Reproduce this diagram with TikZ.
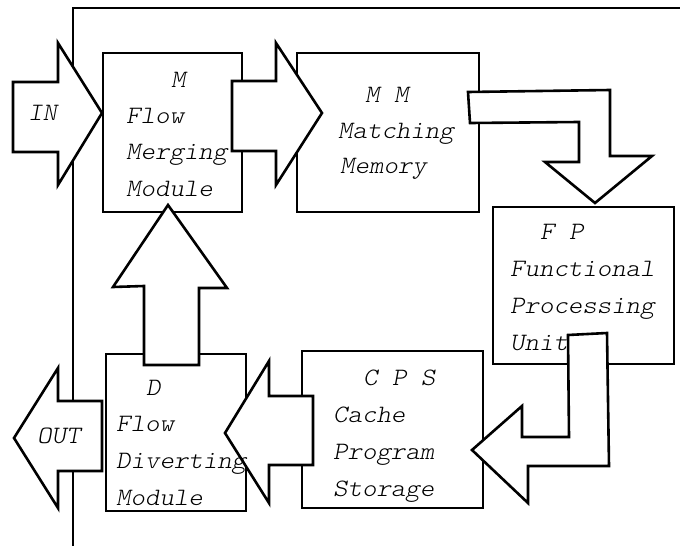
\documentclass[tikz,border=0pt]{standalone}
\usepackage{fontspec}
\newfontfamily\lbfont{lmmonolt10-oblique.otf}[FakeStretch=1.1]
\tikzset{
  box/.style={draw=black, line width=2.6pt, fill=white, rectangle, inner sep=0pt},
  blockarrow/.style={draw=black, line width=2.6pt, fill=white, line join=miter},
  frameline/.style={draw=black, line width=2.6pt},
  lbl/.style={anchor=base west, inner sep=0pt, font=\lbfont\fontsize{25}{25}\selectfont}
}
\begin{document}
\begin{tikzpicture}[x=1pt,y=-1pt]
\useasboundingbox (0,0) rectangle (680,546);
% frame
\coordinate (fTR) at (680,8);
\coordinate (fTL) at (73,8);
\coordinate (fBL) at (73,546);
\draw[frameline] (fTR) -- (fTL) -- (fBL);
% boxes
\node[box, minimum width=139pt, minimum height=159pt] (M) at (172.5,132.5) {};
\node[box, minimum width=182pt, minimum height=159pt] (MM) at (388,132.5) {};
\node[box, minimum width=181pt, minimum height=157pt] (FP) at (583.5,285.5) {};
\node[box, minimum width=181pt, minimum height=157pt] (CPS) at (392.5,429.5) {};
\node[box, minimum width=140pt, minimum height=157pt] (D) at (176,432.5) {};
% block arrows
\draw[blockarrow] (13,82) -- (58,82) -- (58,43) -- (102,113) -- (58,185) -- (58,152) -- (13,152) -- cycle;
\draw[blockarrow] (232,81) -- (276,81) -- (276,43) -- (322,113) -- (276,185) -- (276,151) -- (232,151) -- cycle;
\draw[blockarrow] (468,92) -- (610,90) -- (610,156) -- (652,156) -- (595,203) -- (545,162) -- (579,162) -- (579,122) -- (470,123) -- cycle;
\draw[blockarrow] (568,335) -- (607,333) -- (609,466) -- (528,466) -- (528,503) -- (472,450) -- (522,406) -- (522,437) -- (569,437) -- cycle;
\draw[blockarrow] (313,396) -- (269,396) -- (269,361) -- (225,433) -- (269,503) -- (269,465) -- (313,465) -- cycle;
\draw[blockarrow] (144,365) -- (144,286) -- (113,287) -- (168,205) -- (227,288) -- (199,288) -- (199,365) -- cycle;
\draw[blockarrow] (102,401) -- (58,401) -- (58,368) -- (14,438) -- (58,508) -- (58,471) -- (102,471) -- cycle;
% labels
\node[lbl] (tin) at (28,120) {IN};
\node[lbl] (tout) at (37,443) {OUT};
\node[lbl] (m1) at (171,87) {M};
\node[lbl] (m2) at (126,123) {Flow};
\node[lbl] (m3) at (126,159) {Merging};
\node[lbl] (m4) at (126,196) {Module};
\node[lbl] (mm1) at (365,102) {M M};
\node[lbl] (mm2) at (338,138) {Matching};
\node[lbl] (mm3) at (340,173) {Memory};
\node[lbl] (fp1) at (540,239) {F P};
\node[lbl] (fp2) at (510,276) {Functional};
\node[lbl] (fp3) at (510,313) {Processing};
\node[lbl] (fp4) at (510,350) {Unit};
\node[lbl] (c1) at (363,385) {C P S};
\node[lbl] (c2) at (333,422) {Cache};
\node[lbl] (c3) at (333,459) {Program};
\node[lbl] (c4) at (333,496) {Storage};
\node[lbl] (d1) at (146,395) {D};
\node[lbl] (d2) at (116,431) {Flow};
\node[lbl] (d3) at (116,468) {Diverting};
\node[lbl] (d4) at (116,505) {Module};
\end{tikzpicture}
\end{document}
